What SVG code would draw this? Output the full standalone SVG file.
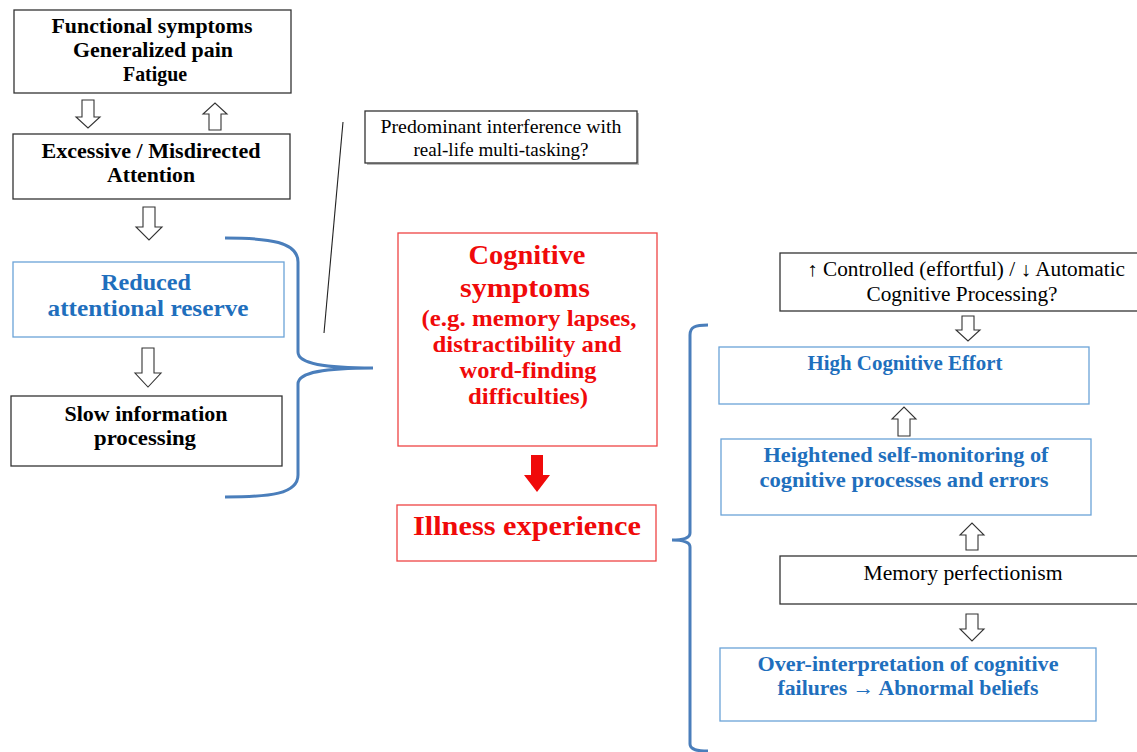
<svg xmlns="http://www.w3.org/2000/svg" width="1137" height="752" viewBox="0 0 1137 752">
<style>
.bx{fill:#fff;stroke:#333;stroke-width:1.3}
.bb{fill:#fff;stroke:#6aa3d8;stroke-width:1.3}
.rb{fill:#fff;stroke:#ee4444;stroke-width:1.3}
.ar{fill:#fff;stroke:#333;stroke-width:1.1}
.t{font-family:"Liberation Serif","DejaVu Serif",serif;text-anchor:middle}
.b{font-weight:bold}
.k{fill:#000}
.bl{fill:#1f6fbd}
.rd{fill:#f00a0a}
.br{fill:none;stroke:#4a7ebb;stroke-width:3}
</style>
<rect width="1137" height="752" fill="#fff"/>
<g id="n-functional"><rect class="bx" x="14" y="10" width="277" height="83"/>
<text class="t b k" font-size="21" x="152" y="33" textLength="201" lengthAdjust="spacingAndGlyphs">Functional symptoms</text>
<text class="t b k" font-size="21" x="153" y="57" textLength="160" lengthAdjust="spacingAndGlyphs">Generalized pain</text>
<text class="t b k" font-size="21" x="155" y="81" textLength="64" lengthAdjust="spacingAndGlyphs">Fatigue</text></g>
<g id="n-excessive"><rect class="bx" x="13" y="134" width="277" height="65"/>
<text class="t b k" font-size="21" x="151" y="158" textLength="219" lengthAdjust="spacingAndGlyphs">Excessive / Misdirected</text>
<text class="t b k" font-size="21" x="151" y="182" textLength="88" lengthAdjust="spacingAndGlyphs">Attention</text></g>
<g id="n-reduced"><rect class="bb" x="13" y="262" width="271" height="75"/>
<text class="t b bl" font-size="24" x="146" y="290" textLength="90" lengthAdjust="spacingAndGlyphs">Reduced</text>
<text class="t b bl" font-size="24" x="148" y="316" textLength="201" lengthAdjust="spacingAndGlyphs">attentional reserve</text></g>
<g id="n-slow"><rect class="bx" x="11" y="396" width="271" height="70"/>
<text class="t b k" font-size="21" x="146" y="421" textLength="163" lengthAdjust="spacingAndGlyphs">Slow information</text>
<text class="t b k" font-size="21" x="145" y="445" textLength="102" lengthAdjust="spacingAndGlyphs">processing</text></g>
<g id="n-predominant"><rect x="367" y="113" width="272" height="52" fill="#bbb"/><rect class="bx" x="365" y="111" width="272" height="52"/>
<text class="t k" font-size="18.5" x="501" y="133" textLength="241" lengthAdjust="spacingAndGlyphs">Predominant interference with</text>
<text class="t k" font-size="18.5" x="501" y="156" textLength="175" lengthAdjust="spacingAndGlyphs">real-life multi-tasking?</text></g>
<g id="n-cognitive"><rect class="rb" x="398" y="233" width="259" height="213"/>
<text class="t b rd" font-size="28" x="527" y="264" textLength="117" lengthAdjust="spacingAndGlyphs">Cognitive</text>
<text class="t b rd" font-size="28" x="525" y="297" textLength="130" lengthAdjust="spacingAndGlyphs">symptoms</text>
<text class="t b rd" font-size="23" x="529" y="326" textLength="215" lengthAdjust="spacingAndGlyphs">(e.g. memory lapses,</text>
<text class="t b rd" font-size="23" x="527" y="352" textLength="189" lengthAdjust="spacingAndGlyphs">distractibility and</text>
<text class="t b rd" font-size="23" x="528" y="378" textLength="137" lengthAdjust="spacingAndGlyphs">word-finding</text>
<text class="t b rd" font-size="23" x="528" y="404" textLength="120" lengthAdjust="spacingAndGlyphs">difficulties)</text></g>
<g id="n-illness"><rect class="rb" x="397" y="505" width="259" height="56"/>
<text class="t b rd" font-size="28" x="527" y="535" textLength="228" lengthAdjust="spacingAndGlyphs">Illness experience</text></g>
<g id="n-controlled"><rect class="bx" x="780" y="253" width="360" height="58"/>
<text class="t k" font-size="20" x="966" y="276" textLength="318" lengthAdjust="spacingAndGlyphs">↑ Controlled (effortful) / ↓ Automatic</text>
<text class="t k" font-size="20" x="962" y="301" textLength="191" lengthAdjust="spacingAndGlyphs">Cognitive Processing?</text></g>
<g id="n-effort"><rect class="bb" x="719" y="347" width="370" height="57"/>
<text class="t b bl" font-size="21" x="905" y="370" textLength="195" lengthAdjust="spacingAndGlyphs">High Cognitive Effort</text></g>
<g id="n-heightened"><rect class="bb" x="721" y="439" width="370" height="76"/>
<text class="t b bl" font-size="21" x="906" y="462" textLength="285" lengthAdjust="spacingAndGlyphs">Heightened self-monitoring of</text>
<text class="t b bl" font-size="21" x="904" y="487" textLength="289" lengthAdjust="spacingAndGlyphs">cognitive processes and errors</text></g>
<g id="n-memory"><rect class="bx" x="780" y="556" width="360" height="48"/>
<text class="t k" font-size="20" x="963" y="580" textLength="199" lengthAdjust="spacingAndGlyphs">Memory perfectionism</text></g>
<g id="n-over"><rect class="bb" x="720" y="648" width="376" height="73"/>
<text class="t b bl" font-size="21" x="908" y="671" textLength="301" lengthAdjust="spacingAndGlyphs">Over-interpretation of cognitive</text>
<text class="t b bl" font-size="21" x="908" y="695" textLength="261" lengthAdjust="spacingAndGlyphs">failures → Abnormal beliefs</text></g>
<g id="connectors">
<path class="ar" d="M82,100 H94 V117 H100 L88,128 L76,117 H82 Z"/>
<path class="ar" d="M209,130 H221 V114 H227 L215,103 L203,114 H209 Z"/>
<path class="ar" d="M143,207 H155 V227 H162 L149,240 L136,227 H143 Z"/>
<path class="ar" d="M142,348 H154 V373 H161 L148,387 L135,373 H142 Z"/>
<path class="ar" d="M962,316 H974 V330 H980 L968,341 L956,330 H962 Z"/>
<path class="ar" d="M898,436 H910 V419 H916 L904,407 L892,419 H898 Z"/>
<path class="ar" d="M966,550 H978 V535 H984 L972,523 L960,535 H966 Z"/>
<path class="ar" d="M966,614 H978 V629 H984 L972,641 L960,629 H966 Z"/>
<path d="M531,455 H543 V475 H550 L537,492 L524,475 H531 Z" fill="#f00a0a"/>
<line x1="343" y1="122" x2="324" y2="333" stroke="#222" stroke-width="1.1"/>
<path class="br" d="M225,238 C270,238 298,242 298,262 L298,352 C298,364 325,368 373,368 C325,368 298,372 298,384 L298,475 C298,494 270,497 225,497"/>
<path class="br" d="M708,325 C695,325 690,327 690,335 L690,533 C690,538 684,540 672,540 C684,540 690,542 690,547 L690,744 C690,750 698,751 708,751"/>
</g>
</svg>
